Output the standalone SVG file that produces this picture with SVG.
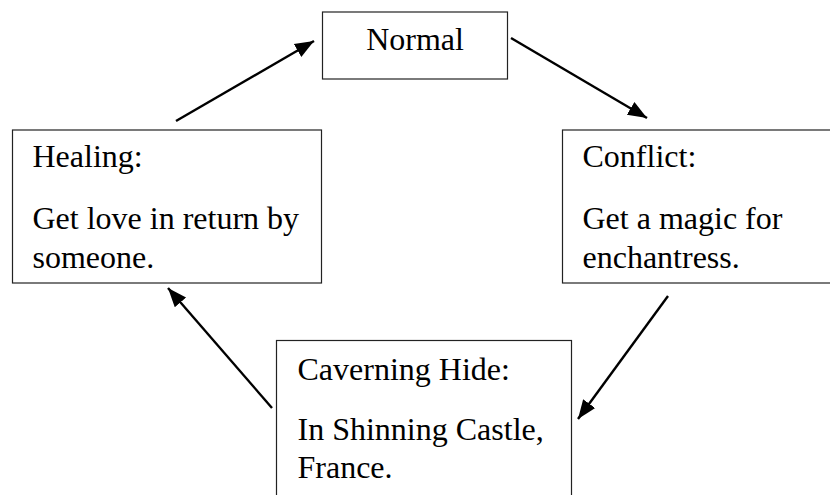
<svg xmlns="http://www.w3.org/2000/svg" width="830" height="495" viewBox="0 0 830 495">
<style>
.box{fill:#fff;stroke:#222;stroke-width:1.2}
.t{font-family:"Liberation Serif","Times New Roman",serif;font-size:32px;fill:#000}
.c{stroke:#000;stroke-width:2.4;fill:none;marker-end:url(#ah)}
</style>
<defs>
<marker id="ah" markerUnits="userSpaceOnUse" markerWidth="22" markerHeight="22" viewBox="0 0 22 22" refX="19" refY="11" orient="auto">
<path d="M0,3.5 L19,11 L0,18.5 Z" fill="#000"/>
</marker>
</defs>
<rect width="830" height="495" fill="#fff"/>
<g id="normal">
<rect class="box" x="322.5" y="12" width="185" height="67"/>
<text class="t" x="415" y="50" text-anchor="middle">Normal</text>
</g>
<g id="healing">
<rect class="box" x="12.5" y="130" width="309" height="153"/>
<text class="t" x="32.5" y="167">Healing:</text>
<text class="t" x="32.5" y="229">Get love in return by</text>
<text class="t" x="32.5" y="268">someone.</text>
</g>
<g id="conflict">
<rect class="box" x="562.5" y="130" width="300" height="153"/>
<text class="t" x="582.5" y="167">Conflict:</text>
<text class="t" x="582.5" y="229">Get a magic for</text>
<text class="t" x="582.5" y="268">enchantress.</text>
</g>
<g id="caverning">
<rect class="box" x="276.5" y="340.5" width="295" height="170"/>
<text class="t" x="297.5" y="380">Caverning Hide:</text>
<text class="t" x="297.5" y="440">In Shinning Castle,</text>
<text class="t" x="297.5" y="478">France.</text>
</g>
<g id="connectors">
<line class="c" x1="176" y1="121" x2="314" y2="41"/>
<line class="c" x1="511" y1="38" x2="647" y2="118"/>
<line class="c" x1="668" y1="296" x2="578" y2="419"/>
<line class="c" x1="272" y1="408" x2="168" y2="288"/>
</g>
</svg>
